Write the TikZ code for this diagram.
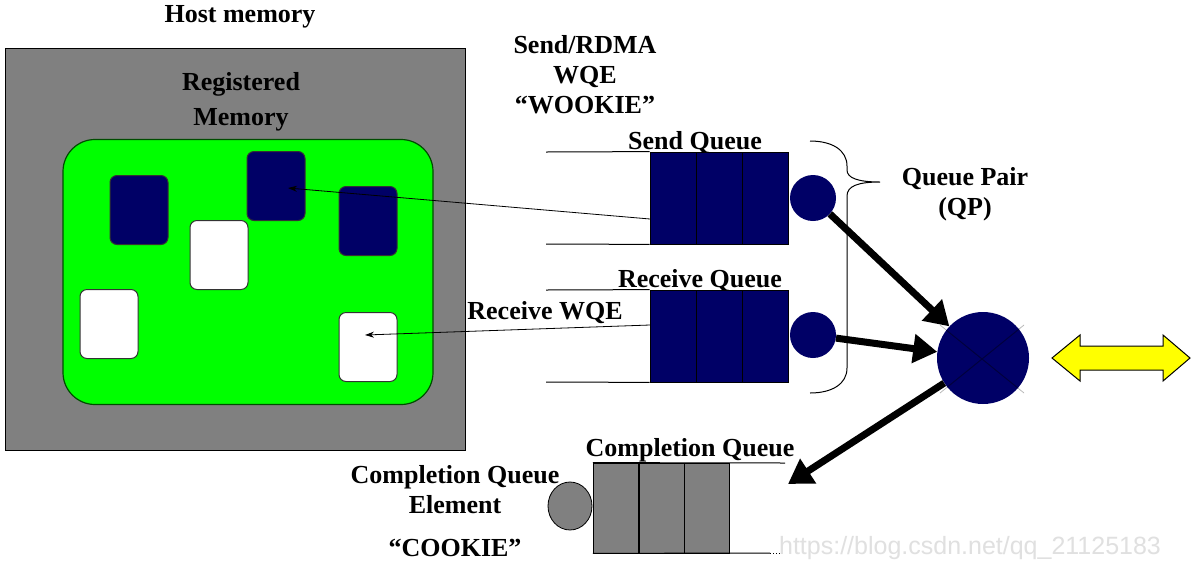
\documentclass[tikz,border=0pt]{standalone}
\usepackage{fontspec}
\setmainfont{Liberation Serif}
\newfontfamily\wmfont{Liberation Sans}
\usetikzlibrary{arrows.meta,shapes.geometric}
\definecolor{navyq}{RGB}{0,0,102}
\definecolor{greenm}{RGB}{0,255,0}
\definecolor{grayh}{RGB}{128,128,128}
\definecolor{yellowa}{RGB}{255,255,0}
\tikzset{
  lbl/.style={font=\bfseries\fontsize{26}{30}\selectfont, align=center, inner sep=0pt},
  memblk/.style={draw=black!80, line width=1pt, rounded corners=7pt, minimum width=58pt, minimum height=69pt, inner sep=0pt},
  navyblk/.style={memblk, fill=navyq},
  whiteblk/.style={memblk, fill=white},
  qcell/.style={draw=black, line width=0.8pt, fill=navyq, minimum width=46pt, minimum height=92pt, inner sep=0pt},
  ccell/.style={draw=black, line width=0.8pt, fill=grayh, minimum width=45.7pt, minimum height=90pt, inner sep=0pt},
  qline/.style={line width=1pt, black},
  bigarrow/.style={line width=7pt, -{Triangle[length=24pt,width=28pt]}},
  thinarrow/.style={line width=0.8pt, -{Stealth[length=9pt,width=6pt]}},
}
\begin{document}
\begin{tikzpicture}[x=1pt,y=-1pt]
\useasboundingbox[fill=white] (0,0) rectangle (1199,574);

% Host memory
\node[lbl] (hostlbl) at (240,17) {Host memory};
\node[draw=black, line width=1pt, fill=grayh, minimum width=460pt, minimum height=402pt, inner sep=0pt] (host) at (235,249) {};
\node[lbl, font=\bfseries\fontsize{26}{35}\selectfont] (reglbl) at (241,102) {Registered\\Memory};
\node[draw=black!70!green, line width=1.2pt, fill=greenm, rounded corners=32pt, minimum width=370pt, minimum height=265pt, inner sep=0pt] (reg) at (248,272) {};

% memory blocks
\node[navyblk] (b1) at (139,210) {};
\node[navyblk] (b2) at (276,186) {};
\node[navyblk] (b3) at (368,221) {};
\node[whiteblk] (w1) at (219,255) {};
\node[whiteblk] (w2) at (109,324) {};
\node[whiteblk] (w3) at (368,347) {};

% WQE label
\node[lbl] (wqelbl) at (585,75) {Send/RDMA\\WQE\\“WOOKIE”};

% Send queue
\node[lbl] (sqlbl) at (695,143) {Send Queue};
\node[qcell] (s1) at (673,198) {};
\node[qcell] (s2) at (719,198) {};
\node[qcell] (s3) at (765,198) {};
\coordinate (sqtl) at (546,152);
\coordinate (sqbl) at (546,244);
\draw[qline] (sqtl) -- (s1.north west);
\draw[qline] (sqbl) -- (s1.south west);
\node[circle, fill=navyq, minimum size=46pt, inner sep=0pt] (sc) at (813,198) {};

% Receive queue
\node[lbl] (rqlbl) at (700,281) {Receive Queue};
\node[qcell] (r1) at (673,336) {};
\node[qcell] (r2) at (719,336) {};
\node[qcell] (r3) at (765,336) {};
\coordinate (rqtl) at (546,290);
\coordinate (rqbl) at (546,382);
\draw[qline] (rqtl) -- (r1.north west);
\draw[qline] (rqbl) -- (r1.south west);
\node[circle, fill=navyq, minimum size=46pt, inner sep=0pt] (rc) at (813,335) {};
\node[lbl] (rwqe) at (545,313) {Receive WQE};

% thin arrows to memory
\coordinate (sqout) at (650,219);
\coordinate (rqout) at (650,325);
\draw[thinarrow] (sqout) -- ([xshift=12pt,yshift=-2pt]b2.center);
\draw[thinarrow] (rqout) -- ([xshift=-3pt,yshift=12pt]w3.center);

% brace
\draw[line width=1pt] (810,141) .. controls (832,141) and (847,150) .. (847,166)
  -- (847,170) .. controls (847,178) and (858,182) .. (880,182)
  (880,182) .. controls (858,182) and (847,186) .. (847,196)
  -- (847,368) .. controls (847,384) and (832,393) .. (810,393);
\node[lbl] (qplbl) at (965,194) {Queue Pair\\(QP)};

% QP circle with cross
\coordinate (xa) at (940,325);
\coordinate (xb) at (1024,393);
\coordinate (xc) at (1024,325);
\coordinate (xd) at (940,393);
\draw[black!30, line width=0.7pt] (xa) -- (xb) (xc) -- (xd);
\node[circle, fill=navyq, minimum size=92pt, inner sep=0pt] (qp) at (983,358) {};
\begin{scope}
\clip (qp.center) circle (46pt);
\draw[navyq!60!black, line width=1pt] (xa) -- (xb) (xc) -- (xd);
\end{scope}

% thick arrows
\draw[bigarrow] (sc) -- (qp);
\draw[bigarrow] (rc) -- (qp);
\coordinate (cqin) at (788,484);
\draw[bigarrow] (qp) -- (cqin);

% yellow double arrow
\draw[fill=yellowa, line width=1pt] (1052,358) -- (1080,335) -- (1080,346) -- (1163,346) -- (1163,335)
  -- (1190,358) -- (1163,381) -- (1163,370) -- (1080,370) -- (1080,381) -- cycle;

% Completion queue
\node[lbl] (cqlbl) at (690,450) {Completion Queue};
\node[ccell] (c1) at (616,508) {};
\node[ccell] (c2) at (662,508) {};
\node[ccell] (c3) at (707,508) {};
\coordinate (cqtr) at (785,463);
\coordinate (cqbr) at (770,553);
\coordinate (cqdot) at (782,553);
\draw[qline] (c1.north west) -- (cqtr);
\draw[qline] (c1.south west) -- (cqbr);
\draw[line width=1pt, dotted] (cqbr) -- (cqdot);
\node[ellipse, draw=black, line width=0.8pt, fill=grayh, minimum width=44pt, minimum height=48pt, inner sep=0pt] (cqe) at (570,506) {};
\node[lbl] (cqelbl) at (455,490) {Completion Queue\\Element};
\node[lbl] (cookie) at (455,548) {“COOKIE”};

% watermark
\node[font=\wmfont\fontsize{25}{28}\selectfont, text=black!12, inner sep=0pt] (wm) at (970,548) {https://blog.csdn.net/qq\_21125183};
\end{tikzpicture}
\end{document}
